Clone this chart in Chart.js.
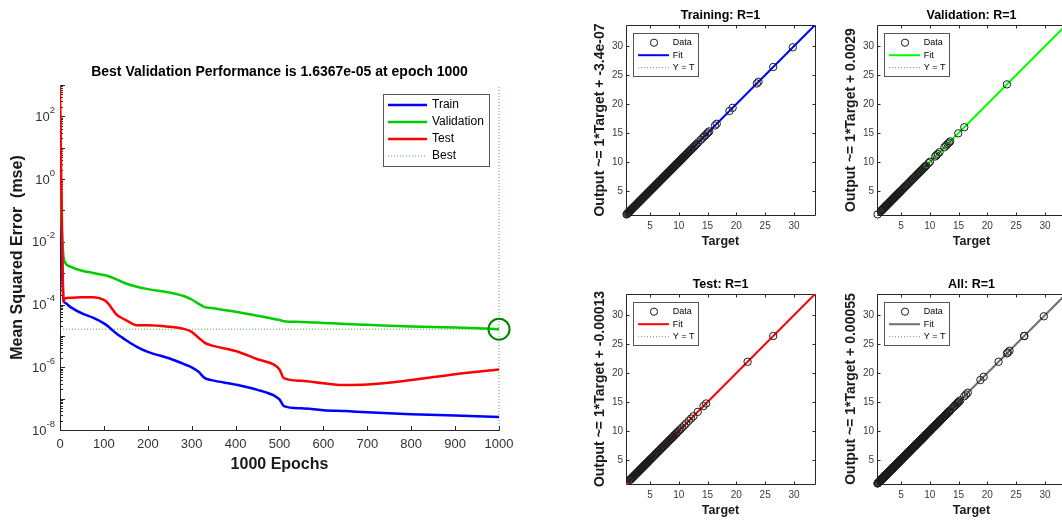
<!DOCTYPE html>
<html>
<head>
<meta charset="utf-8">
<script src="https://cdn.jsdelivr.net/npm/chart.js@4.4.1/dist/chart.umd.min.js"></script>
<style>
  html, body { margin: 0; padding: 0; background: #fff; }
  body { width: 1062px; height: 521px; overflow: hidden; position: relative; }
  canvas { position: absolute; }
</style>
</head>
<body>
<canvas id="perf" width="540" height="521" style="left:0;top:0"></canvas>
<canvas id="regTrain" width="260" height="260" style="left:560px;top:0"></canvas>
<canvas id="regVal" width="260" height="260" style="left:811px;top:0"></canvas>
<canvas id="regTest" width="260" height="260" style="left:560px;top:269px"></canvas>
<canvas id="regAll" width="260" height="260" style="left:811px;top:269px"></canvas>
<script>
const FONT = "'Liberation Sans', Arial, sans-serif";

// training record (mse per epoch)
const epochs = [0, 2, 5, 8, 10, 25, 50, 75, 100, 110, 120, 130, 140, 150, 175, 200, 250, 280, 300, 315, 330, 345, 400, 450, 490, 500, 510, 550, 600, 650, 700, 800, 900, 1000];
const trainPerf = [120, 0.5, 2e-3, 1.3e-4, 1.17e-4, 8.1e-5, 5.2e-5, 3.8e-5, 2.5e-5, 2.0e-5, 1.5e-5, 1.15e-5, 9.2e-6, 7.4e-6, 4.5e-6, 3.1e-6, 1.9e-6, 1.3e-6, 1.0e-6, 7.3e-7, 4.5e-7, 3.9e-7, 2.8e-7, 1.9e-7, 1.2e-7, 9.5e-8, 5.8e-8, 4.9e-8, 4.3e-8, 4.0e-8, 3.7e-8, 3.2e-8, 2.9e-8, 2.6e-8];
const valPerf = [40, 0.3, 1.5e-2, 3.3e-3, 2.4e-3, 1.6e-3, 1.2e-3, 1.02e-3, 8.7e-4, 8.0e-4, 7.1e-4, 6.2e-4, 5.4e-4, 4.7e-4, 3.7e-4, 3.1e-4, 2.4e-4, 1.9e-4, 1.45e-4, 1.07e-4, 8.3e-5, 7.7e-5, 5.9e-5, 4.4e-5, 3.4e-5, 3.2e-5, 2.95e-5, 2.8e-5, 2.6e-5, 2.4e-5, 2.25e-5, 2.0e-5, 1.85e-5, 1.6367e-5];
const testPerf = [900, 5, 1e-2, 1.2e-4, 1.55e-4, 1.65e-4, 1.7e-4, 1.7e-4, 1.4e-4, 1.07e-4, 6.9e-5, 4.6e-5, 3.8e-5, 3.2e-5, 2.2e-5, 2.2e-5, 1.95e-5, 1.7e-5, 1.35e-5, 8.9e-6, 6.0e-6, 5.0e-6, 3.3e-6, 1.8e-6, 1.15e-6, 8.5e-7, 4.5e-7, 3.7e-7, 3.1e-7, 2.7e-7, 2.8e-7, 3.9e-7, 6.0e-7, 8.5e-7];
const bestEpoch = 1000;
const bestPerf = 1.6367e-5;
const epochRange = [0, 1000];
const epochTicks = [0, 100, 200, 300, 400, 500, 600, 700, 800, 900, 1000];
const perfRange = [1e-8, 1e3];
const perfTicks = [1e-8, 1e-6, 1e-4, 1e-2, 1, 1e2];
const perfTickExp = ['-8', '-6', '-4', '-2', '0', '2'];

// regression: targets of each subset (outputs sit on them, R=1)
const trainTarget = [0.95, 1.04, 1.15, 1.26, 1.37, 1.46, 1.58, 1.69, 1.78, 1.90, 2.01, 2.12, 2.22, 2.35, 2.44, 2.56, 2.67, 2.78, 2.88, 3.01, 3.10, 3.22, 3.33, 3.44, 3.54, 3.67, 3.76, 3.88, 3.99, 4.10, 4.20, 4.33, 4.42, 4.54, 4.65, 4.76, 4.86, 4.99, 5.08, 5.20, 5.31, 5.42, 5.52, 5.65, 5.74, 5.86, 5.97, 6.08, 6.18, 6.31, 6.40, 6.52, 6.63, 6.74, 6.84, 6.97, 7.06, 7.18, 7.29, 7.40, 7.50, 7.63, 7.72, 7.84, 7.95, 8.06, 8.16, 8.29, 8.38, 8.50, 8.61, 8.72, 8.82, 8.95, 9.04, 9.16, 9.27, 9.38, 9.48, 9.61, 9.70, 9.82, 9.93, 10.04, 10.14, 10.27, 10.36, 10.48, 10.59, 10.70, 10.80, 10.93, 11.08, 11.22, 11.37, 11.55, 11.70, 11.88, 12.05, 12.21, 12.40, 12.58, 12.77, 12.96, 13.12, 13.40, 13.80, 14.10, 14.40, 14.60, 14.90, 15.10, 15.30, 16.30, 16.60, 18.80, 19.35, 23.55, 23.85, 26.40, 29.80];
const valTarget = [0.95, 1.50, 1.59, 1.70, 1.79, 1.90, 2.01, 2.10, 2.21, 2.30, 2.41, 2.50, 2.61, 2.70, 2.81, 2.90, 3.01, 3.10, 3.21, 3.30, 3.41, 3.50, 3.61, 3.70, 3.81, 3.90, 4.01, 4.10, 4.21, 4.30, 4.41, 4.50, 4.61, 4.70, 4.81, 4.90, 5.03, 5.17, 5.32, 5.48, 5.62, 5.77, 5.93, 6.07, 6.22, 6.38, 6.52, 6.67, 6.83, 6.97, 7.12, 7.28, 7.42, 7.57, 7.73, 7.87, 8.02, 8.18, 8.32, 8.47, 8.63, 8.77, 8.92, 9.08, 9.22, 9.40, 9.80, 10.05, 10.95, 11.15, 11.40, 11.70, 12.55, 12.85, 13.10, 13.35, 13.55, 14.95, 16.00, 23.40];
const testTarget = [1.55, 1.64, 1.75, 1.84, 1.95, 2.06, 2.15, 2.26, 2.35, 2.46, 2.55, 2.66, 2.75, 2.86, 2.95, 3.06, 3.15, 3.26, 3.35, 3.46, 3.55, 3.66, 3.75, 3.86, 3.95, 4.06, 4.15, 4.26, 4.35, 4.46, 4.55, 4.66, 4.75, 4.86, 4.95, 5.08, 5.22, 5.37, 5.53, 5.67, 5.82, 5.98, 6.12, 6.27, 6.43, 6.57, 6.72, 6.88, 7.02, 7.17, 7.33, 7.47, 7.62, 7.78, 7.92, 8.07, 8.23, 8.37, 8.52, 8.68, 8.82, 8.97, 9.13, 9.27, 9.45, 9.62, 9.80, 10.05, 10.30, 10.60, 10.95, 11.30, 11.75, 12.15, 12.55, 13.30, 14.30, 14.75, 21.95, 26.40];
const allTarget = trainTarget.concat(valTarget, testTarget);

const regNames = ['Training', 'Validation', 'Test', 'All'];
const regR = [1, 1, 1, 1];
const regSlope = [1, 1, 1, 1];
const regIntercept = [-3.4e-7, 0.0029, -0.00013, 0.00055];
const regInterceptText = ['-3.4e-07', '0.0029', '-0.00013', '0.00055'];
const regRange = [0.85, 33.65];
const regTicks = [5, 10, 15, 20, 25, 30];

function crisp(v) { return Math.round(v) + 0.5; }

// box + inward tick marks, the way matlab axes look
const axesFrame = {
  id: 'axesFrame',
  beforeDatasetsDraw(chart, args, o) {
    const { ctx, chartArea: a, scales } = chart;
    const x = scales.x, y = scales.y;
    const L = crisp(a.left), R = crisp(a.right), T = crisp(a.top), B = crisp(a.bottom);
    ctx.save();
    ctx.strokeStyle = '#262626';
    ctx.lineWidth = 1;
    ctx.beginPath();
    ctx.moveTo(L, T); ctx.lineTo(L, B); ctx.lineTo(R, B);
    if (o.box) { ctx.lineTo(R, T); ctx.lineTo(L, T); }
    x.ticks.forEach(t => {
      const px = crisp(x.getPixelForValue(t.value));
      ctx.moveTo(px, B); ctx.lineTo(px, B - o.tick);
      if (o.box) { ctx.moveTo(px, T); ctx.lineTo(px, T + o.tick); }
    });
    let marks = y.ticks.map(t => ({ v: t.value, len: o.tick }));
    if (o.logMinor) {
      marks = [];
      const d0 = Math.floor(Math.log10(y.min)), d1 = Math.ceil(Math.log10(y.max));
      for (let d = d0; d <= d1; d++) {
        for (let k = 1; k <= 9; k++) {
          const v = k * Math.pow(10, d);
          if (v >= y.min && v <= y.max) marks.push({ v: v, len: k === 1 ? o.tick : o.minorTick });
        }
      }
    }
    marks.forEach(m => {
      const py = crisp(y.getPixelForValue(m.v));
      ctx.moveTo(L, py); ctx.lineTo(L + m.len, py);
      if (o.box) { ctx.moveTo(R, py); ctx.lineTo(R - m.len, py); }
    });
    ctx.stroke();
    ctx.restore();
  }
};

// "10" with a raised exponent at each y tick of the log axis
const powerLabels = {
  id: 'powerLabels',
  afterDraw(chart, args, o) {
    if (!o.exps) return;
    const { ctx, chartArea: a, scales: { y } } = chart;
    ctx.save();
    ctx.fillStyle = '#333';
    ctx.textAlign = 'right';
    ctx.textBaseline = 'middle';
    y.ticks.forEach((t, i) => {
      const py = y.getPixelForValue(t.value);
      const right = a.left - 5;
      ctx.font = '9.5px ' + FONT;
      const e = o.exps[i];
      const ew = ctx.measureText(e).width;
      ctx.fillText(e, right, py - 6);
      ctx.font = '13px ' + FONT;
      ctx.fillText('10', right - ew, py + 1);
    });
    ctx.restore();
  }
};

// title above the axes and the boxed legend inside them
const axesText = {
  id: 'axesText',
  afterDraw(chart, args, o) {
    const { ctx, chartArea: a } = chart;
    ctx.save();
    ctx.font = 'bold ' + o.titleSize + 'px ' + FONT;
    ctx.fillStyle = '#000';
    ctx.textAlign = 'center';
    ctx.textBaseline = 'middle';
    ctx.fillText(o.title, (a.left + a.right) / 2, a.top - o.titleGap);

    const g = o.legend;
    const bx = a.left + g.x, by = a.top + g.y;
    ctx.fillStyle = '#fff';
    ctx.fillRect(bx, by, g.w, g.h);
    ctx.strokeStyle = '#555';
    ctx.lineWidth = 1;
    ctx.strokeRect(crisp(bx), crisp(by), Math.round(g.w), Math.round(g.h));
    ctx.font = g.size + 'px ' + FONT;
    ctx.textAlign = 'left';
    g.items.forEach((it, i) => {
      const cy = by + g.first + i * g.step;
      ctx.beginPath();
      ctx.strokeStyle = it.color;
      ctx.lineWidth = it.width;
      ctx.setLineDash(it.dash ? it.dash : []);
      if (it.kind === 'circle') {
        ctx.arc(bx + g.cx, cy, 3.6, 0, Math.PI * 2);
      } else {
        ctx.moveTo(bx + g.x1, cy);
        ctx.lineTo(bx + g.x2, cy);
      }
      ctx.stroke();
      ctx.setLineDash([]);
      ctx.fillStyle = '#000';
      ctx.fillText(it.label, bx + g.tx, cy);
    });
    ctx.restore();
  }
};

function xy(xs, ys) {
  return xs.map((v, i) => ({ x: v, y: ys[i] }));
}

function curve(label, data, color, order) {
  return {
    label: label, data: data, borderColor: color, borderWidth: 2.5,
    pointRadius: 0, cubicInterpolationMode: 'monotone', order: order
  };
}

// performance plot
new Chart(document.getElementById('perf'), {
  type: 'line',
  data: {
    datasets: [
      curve('Test', xy(epochs, testPerf), '#ff0000', 1),
      curve('Validation', xy(epochs, valPerf), '#00cc00', 2),
      curve('Train', xy(epochs, trainPerf), '#0000ff', 3),
      {
        label: 'Best', data: xy(epochRange, [bestPerf, bestPerf]), borderColor: 'rgba(0,170,0,0.75)',
        borderWidth: 1, borderDash: [1, 2], pointRadius: 0, order: 4
      },
      {
        label: 'Best epoch', data: xy([bestEpoch, bestEpoch], perfRange), borderColor: 'rgba(0,170,0,0.75)',
        borderWidth: 1, borderDash: [1, 2], pointRadius: 0, order: 4, clip: false
      },
      {
        label: 'Best point', data: [{ x: bestEpoch, y: bestPerf }], showLine: false,
        pointRadius: 10.5, pointBorderWidth: 2, pointBorderColor: 'rgb(0,128,0)',
        pointBackgroundColor: 'rgba(0,0,0,0)', clip: false, order: 0
      }
    ]
  },
  options: {
    responsive: false, animation: false, devicePixelRatio: 1, events: [],
    layout: { padding: { left: 0, top: 85, right: 41, bottom: 0 } },
    plugins: {
      legend: { display: false }, tooltip: { enabled: false },
      axesFrame: { box: false, tick: 4.5, minorTick: 2.5, logMinor: true },
      powerLabels: { exps: perfTickExp },
      axesText: {
        title: 'Best Validation Performance is 1.6367e-05 at epoch 1000', titleSize: 14, titleGap: 13,
        legend: {
          x: 323, y: 9, w: 106, h: 72, size: 12, first: 11, step: 17, x1: 5, x2: 44, tx: 49, cx: 24,
          items: [
            { label: 'Train', color: '#0000ff', width: 2.5 },
            { label: 'Validation', color: '#00cc00', width: 2.5 },
            { label: 'Test', color: '#ff0000', width: 2.5 },
            { label: 'Best', color: 'rgba(0,170,0,0.75)', width: 1, dash: [1, 2] }
          ]
        }
      }
    },
    scales: {
      x: {
        type: 'linear', min: epochRange[0], max: epochRange[1],
        afterBuildTicks: s => { s.ticks = epochTicks.map(v => ({ value: v })); },
        afterFit: s => { s.height = 91; },
        grid: { display: false, drawTicks: false }, border: { display: false },
        ticks: { font: { family: FONT, size: 13 }, color: '#333', padding: 7, maxRotation: 0, autoSkip: false, callback: v => String(v) },
        title: { display: true, text: '1000 Epochs', color: '#1a1a1a', font: { family: FONT, size: 16, weight: 'bold' }, padding: { top: 0, bottom: 46.4 } }
      },
      y: {
        type: 'logarithmic', min: perfRange[0], max: perfRange[1],
        afterBuildTicks: s => { s.ticks = perfTicks.map(v => ({ value: v })); },
        afterFit: s => { s.width = 60; },
        grid: { display: false, drawTicks: false }, border: { display: false },
        ticks: { display: false },
        title: { display: true, text: 'Mean Squared Error  (mse)', color: '#1a1a1a', font: { family: FONT, size: 16, weight: 'bold' }, padding: { top: 8.4, bottom: 0 } }
      }
    }
  },
  plugins: [axesFrame, powerLabels, axesText]
});

// one regression panel
function regression(id, k, target, fitColor) {
  const b = regIntercept[k], m = regSlope[k];
  new Chart(document.getElementById(id), {
    type: 'scatter',
    data: {
      datasets: [
        {
          label: 'Data', data: xy(target, target), showLine: false,
          pointStyle: 'circle', pointRadius: 3.7, pointBorderWidth: 1,
          pointBorderColor: '#1a1a1a', pointBackgroundColor: 'rgba(0,0,0,0)',
          clip: false, order: 0
        },
        {
          label: 'Fit', data: xy(regRange, regRange.map(t => m * t + b)), showLine: true,
          borderColor: fitColor, borderWidth: 2, pointRadius: 0, order: 1
        },
        {
          label: 'Y = T', data: xy(regRange, regRange), showLine: true,
          borderColor: '#888', borderWidth: 1, borderDash: [1, 2], pointRadius: 0, order: 2
        }
      ]
    },
    options: {
      responsive: false, animation: false, devicePixelRatio: 1, events: [],
      layout: { padding: { left: 0, top: 25, right: 2.7, bottom: 0 } },
      plugins: {
        legend: { display: false }, tooltip: { enabled: false },
        axesFrame: { box: true, tick: 3 },
        axesText: {
          title: regNames[k] + ': R=' + regR[k], titleSize: 12.5, titleGap: 9.5,
          legend: {
            x: 7.3, y: 7.7, w: 64.7, h: 43.3, size: 9, first: 10, step: 12.5, x1: 4.7, x2: 35.7, tx: 39.4, cx: 20.7,
            items: [
              { label: 'Data', kind: 'circle', color: '#1a1a1a', width: 1 },
              { label: 'Fit', color: fitColor, width: 2 },
              { label: 'Y = T', color: '#888', width: 1, dash: [1, 2] }
            ]
          }
        }
      },
      scales: {
        x: {
          type: 'linear', min: regRange[0], max: regRange[1],
          afterBuildTicks: s => { s.ticks = regTicks.map(v => ({ value: v })); },
          afterFit: s => { s.height = 45; },
          grid: { display: false, drawTicks: false }, border: { display: false },
          ticks: { font: { family: FONT, size: 10 }, color: '#3a3a3a', padding: 5.7, maxRotation: 0, autoSkip: false },
          title: { display: true, text: 'Target', color: '#1a1a1a', font: { family: FONT, size: 12.5, weight: 'bold' }, padding: { top: 0, bottom: 10.8 } }
        },
        y: {
          type: 'linear', min: regRange[0], max: regRange[1],
          afterBuildTicks: s => { s.ticks = regTicks.map(v => ({ value: v })); },
          afterFit: s => { s.width = 66; },
          grid: { display: false, drawTicks: false }, border: { display: false },
          ticks: { font: { family: FONT, size: 10 }, color: '#3a3a3a', padding: 3, autoSkip: false },
          title: {
            display: true, text: 'Output ~= ' + m + '*Target + ' + regInterceptText[k], color: '#1a1a1a',
            font: { family: FONT, size: 14, weight: 'bold' }, padding: { top: 31.6, bottom: 0 }
          }
        }
      }
    },
    plugins: [axesFrame, axesText]
  });
}

regression('regTrain', 0, trainTarget, '#0000ff');
regression('regVal', 1, valTarget, '#00ff00');
regression('regTest', 2, testTarget, '#ff0000');
regression('regAll', 3, allTarget, '#6e6e6e');
</script>
</body>
</html>
